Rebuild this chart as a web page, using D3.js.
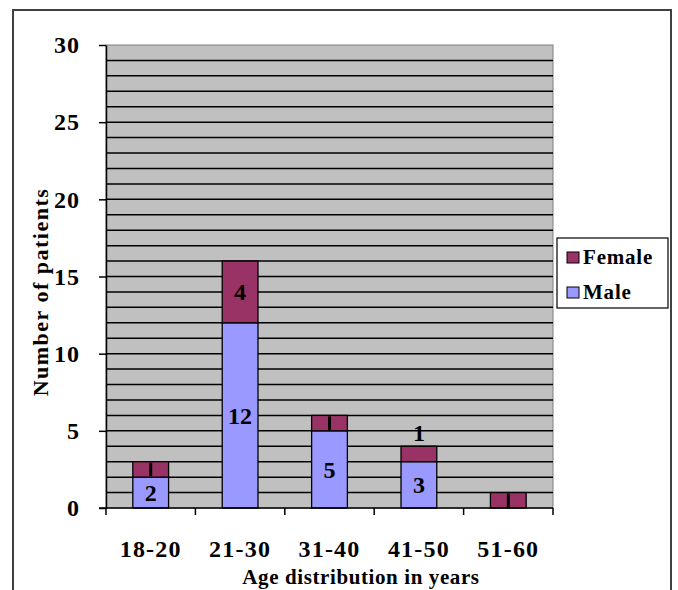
<!DOCTYPE html>
<html>
<head>
<meta charset="utf-8">
<script src="https://cdn.jsdelivr.net/npm/d3@7"></script>
<style>
body { margin: 0; background: #fff; }
text { font-family: "Liberation Serif", "Times New Roman", serif; font-weight: bold; }
</style>
</head>
<body>
<svg width="678" height="590"></svg>
<script>
const categories = ['18-20', '21-30', '31-40', '41-50', '51-60'];
const male = [2, 12, 5, 3, 0];
const female = [1, 4, 1, 1, 1];
const yTicks = [0, 5, 10, 15, 20, 25, 30];

const plotLeft = 106, plotRight = 553, plotTop = 45, plotBottom = 508;

const svg = d3.select('svg');

// outer frame
svg.append('rect')
    .attr('x', 13).attr('y', 10)
    .attr('width', 658).attr('height', 600)
    .attr('fill', 'none').attr('stroke', '#404040').attr('stroke-width', 2);

const x = d3.scaleBand().domain(categories).range([plotLeft, plotRight]).paddingInner(0.6).paddingOuter(0.3);
const xb = d3.scaleBand().domain(categories).range([plotLeft, plotRight]);
const y = d3.scaleLinear().domain([0, 30]).range([plotBottom, plotTop]);

svg.append('rect')
    .attr('x', plotLeft).attr('y', plotTop)
    .attr('width', plotRight - plotLeft).attr('height', plotBottom - plotTop)
    .attr('fill', '#c0c0c0').attr('stroke', '#808080');

svg.append('g')
    .selectAll('line')
    .data(d3.range(1, 30))
    .enter()
    .append('line')
    .attr('x1', plotLeft).attr('x2', plotRight)
    .attr('y1', (d) => y(d)).attr('y2', (d) => y(d))
    .attr('stroke', '#000').attr('stroke-width', 1.5);

const bars = svg.append('g');
categories.forEach((c, i) => {
    const segs = [
        { v0: 0, v1: male[i], color: '#9999ff' },
        { v0: male[i], v1: male[i] + female[i], color: '#993366' }
    ];
    segs.forEach((s) => {
        if (s.v1 - s.v0 <= 0) return;
        bars.append('rect')
            .attr('x', x(c)).attr('y', y(s.v1))
            .attr('width', x.bandwidth()).attr('height', y(s.v0) - y(s.v1))
            .attr('fill', s.color).attr('stroke', '#000').attr('stroke-width', 1.3);
    });
});

// value labels
const labels = svg.append('g');
categories.forEach((c, i) => {
    const cx = x(c) + x.bandwidth() / 2;
    if (male[i] > 1) {
        labels.append('text')
            .attr('x', cx).attr('y', y(male[i] / 2))
            .attr('dy', '0.35em').attr('text-anchor', 'middle')
            .attr('font-size', 24).text(male[i]);
    }
    if (female[i] > 1) {
        labels.append('text')
            .attr('x', cx).attr('y', y(male[i] + female[i] / 2))
            .attr('dy', '0.35em').attr('text-anchor', 'middle')
            .attr('font-size', 24).text(female[i]);
    } else if (c === '41-50') {
        labels.append('text')
            .attr('x', cx).attr('y', y(male[i] + female[i] + 0.9))
            .attr('dy', '0.35em').attr('text-anchor', 'middle')
            .attr('font-size', 24).text(female[i]);
    } else {
        // clipped label inside a thin segment
        const y0 = y(male[i] + female[i]), y1 = y(male[i]);
        labels.append('line')
            .attr('x1', cx).attr('x2', cx)
            .attr('y1', y0 + 1).attr('y2', y1 - 1)
            .attr('stroke', '#000').attr('stroke-width', 3);
    }
});

// y axis
const yAxis = svg.append('g')
    .attr('transform', `translate(${plotLeft},0)`)
    .call(d3.axisLeft(y).tickValues(yTicks).tickSize(7).tickSizeOuter(0));
yAxis.select('.domain').attr('stroke', '#000').attr('stroke-width', 1.5);
yAxis.selectAll('.tick line').attr('stroke-width', 1.5);
yAxis.selectAll('.tick text')
    .attr('x', -26).attr('font-size', 24)
    .attr('letter-spacing', 1)
    .attr('font-family', '"Liberation Serif", serif').attr('font-weight', 'bold');

// x axis
const xAxis = svg.append('g')
    .attr('transform', `translate(0,${plotBottom})`);
xAxis.append('line')
    .attr('x1', plotLeft - 7).attr('x2', plotRight)
    .attr('stroke', '#000').attr('stroke-width', 1.5);
xAxis.selectAll('.tk')
    .data(categories.map((c) => xb(c)).concat([plotRight]))
    .enter()
    .append('line')
    .attr('x1', (d) => d).attr('x2', (d) => d)
    .attr('y1', 0).attr('y2', 7)
    .attr('stroke', '#000').attr('stroke-width', 1.5);
xAxis.selectAll('.lbl')
    .data(categories)
    .enter()
    .append('text')
    .attr('x', (d) => xb(d) + xb.bandwidth() / 2)
    .attr('y', 49)
    .attr('text-anchor', 'middle')
    .attr('font-size', 24)
    .attr('letter-spacing', 1.2)
    .text((d) => d);

// axis titles
svg.append('text')
    .attr('transform', 'translate(48,292) rotate(-90)')
    .attr('text-anchor', 'middle')
    .attr('font-size', 22)
    .attr('letter-spacing', 1.5)
    .text('Number of patients');

svg.append('text')
    .attr('x', 361).attr('y', 584)
    .attr('text-anchor', 'middle')
    .attr('font-size', 21)
    .attr('letter-spacing', 0.6)
    .text('Age distribution in years');

// legend
const legend = svg.append('g');
legend.append('rect')
    .attr('x', 557).attr('y', 238)
    .attr('width', 111).attr('height', 70)
    .attr('fill', '#fff').attr('stroke', '#000').attr('stroke-width', 1.2);
const legendItems = [{ name: 'Female', color: '#993366' }, { name: 'Male', color: '#9999ff' }];
legendItems.forEach((d, i) => {
    legend.append('rect')
        .attr('x', 567).attr('y', 252 + i * 35)
        .attr('width', 12).attr('height', 11)
        .attr('fill', d.color).attr('stroke', '#000');
    legend.append('text')
        .attr('x', 583).attr('y', 264 + i * 35)
        .attr('font-size', 21)
        .attr('letter-spacing', 0.8)
        .text(d.name);
});
</script>
</body>
</html>
